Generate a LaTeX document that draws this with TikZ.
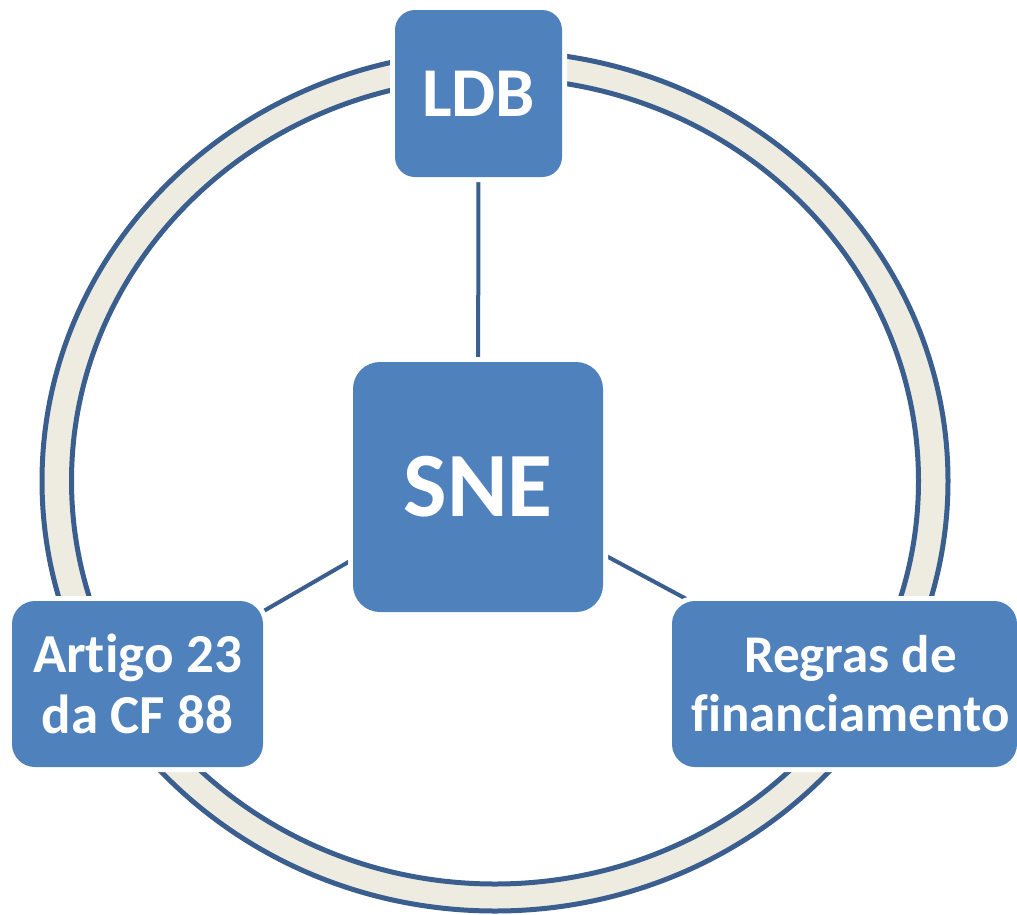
\documentclass[tikz,border=0pt]{standalone}
\usepackage{fontspec}
\setmainfont{Carlito}[RawFeature={-liga;-dlig;-clig}]
\usetikzlibrary{backgrounds}
\definecolor{boxblue}{HTML}{4F81BD}
\definecolor{ringline}{HTML}{3A5F8F}
\definecolor{ringfill}{HTML}{EEECE1}
\tikzset{
  box/.style={fill=boxblue, text=white, inner sep=0pt, align=center,
    preaction={draw=white, line width=10pt}},
  conn/.style={draw=ringline, line width=4pt},
  ringband/.style={fill=ringfill, draw=ringline, line width=5pt, even odd rule}
}
\begin{document}
\begin{tikzpicture}[x=1pt,y=-1pt]
\useasboundingbox (0,0) rectangle (1017,914);
\node[box, minimum width=167pt, minimum height=167pt, rounded corners=20pt,
  font=\fontsize{70}{70}\bfseries\selectfont] (ldb) at (478.5,93.5) {LDB};
\node[box, minimum width=250pt, minimum height=250pt, rounded corners=27pt,
  font=\fontsize{92}{92}\bfseries\selectfont] (sne) at (478,487) {SNE};
\node[box, minimum width=251pt, minimum height=166pt, rounded corners=23pt,
  font=\fontsize{55}{61}\bfseries\selectfont] (art) at (137.5,684) {Artigo 23\\da CF 88};
\node[box, minimum width=345pt, minimum height=166pt, rounded corners=23pt,
  font=\fontsize{53}{59}\bfseries\selectfont] (reg) at (844.5,684)
  {\hspace*{12pt}Regras de\\\hspace*{12pt}financiamento};
\begin{scope}[on background layer]
  \path[ringband] (495,481) ellipse [x radius=453, y radius=430]
                  (495,481) ellipse [x radius=423.5, y radius=403];
  \draw[conn] (ldb.center) -- (sne.center);
  \draw[conn] (sne.center) -- (art.center);
  \draw[conn] (sne.center) -- (reg.center);
\end{scope}
\end{tikzpicture}
\end{document}
